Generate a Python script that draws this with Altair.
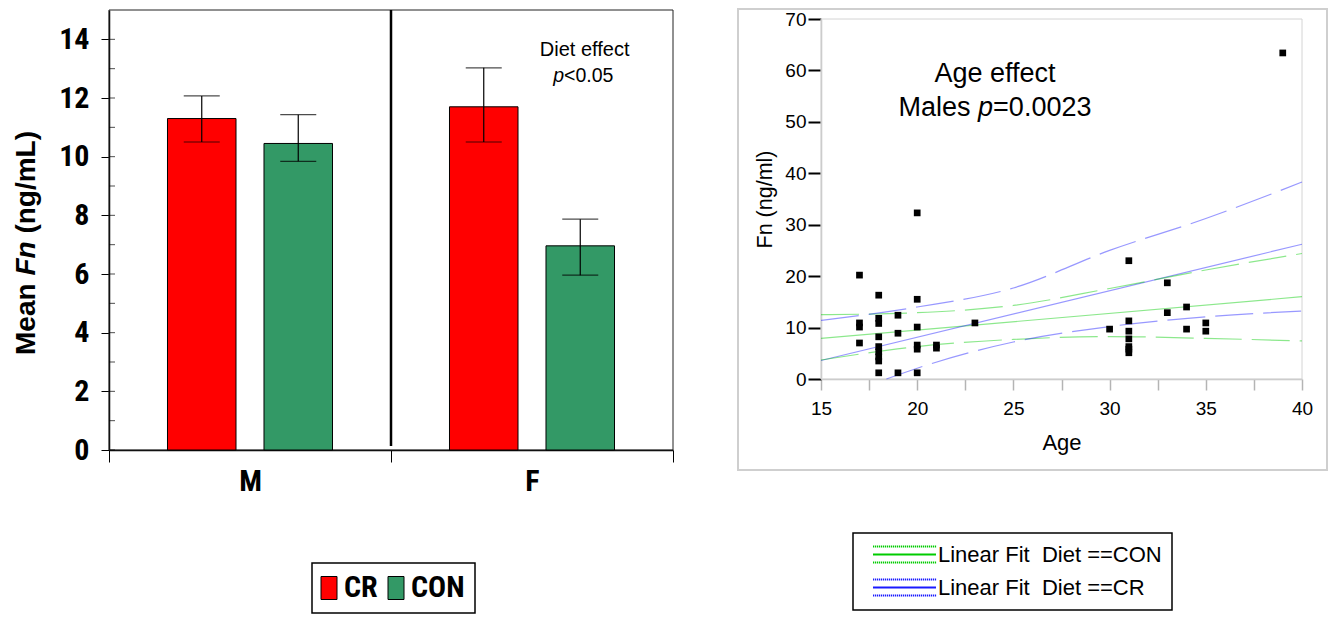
import altair as alt
import pandas as pd

NARROW = ("Liberation Sans Narrow, Arial Narrow, Roboto Condensed, Noto Sans Condensed, "
          "Open Sans Condensed, DejaVu Sans Condensed, Liberation Sans, sans-serif")
SANS = "Liberation Sans, Arial, Helvetica, sans-serif"

# ---------------- left panel data ----------------
sex = ["M", "M", "F", "F"]
diet = ["CR", "CON", "CR", "CON"]
mean_fn = [11.30, 10.45, 11.70, 6.96]
sem_low = [10.50, 9.84, 10.50, 5.96]
sem_high = [12.07, 11.43, 13.03, 7.87]
sex_order = ["M", "F"]
diet_order = ["CR", "CON"]
diet_colors = ["#ff0000", "#339966"]
left_ticks = [0, 2, 4, 6, 8, 10, 12, 14]
left_inner_ticks = list(range(0, 15))

# ---------------- right panel data ----------------
ages = [17, 17, 17, 17,
        18, 18, 18, 18, 18, 18, 18, 18, 18,
        19, 19, 19,
        20, 20, 20, 20, 20, 20,
        21, 21, 23, 30,
        31, 31, 31, 31, 31, 31, 31,
        33, 33, 34, 34, 35, 35, 39]
fn_values = [20.2, 10.9, 10.1, 7.0,
             16.3, 11.8, 10.8, 8.2, 6.3, 5.3, 4.3, 3.5, 1.2,
             12.4, 8.9, 1.2,
             32.3, 15.5, 10.1, 6.6, 5.8, 1.2,
             6.6, 6.0, 10.9, 9.7,
             23.0, 11.3, 9.3, 7.8, 6.3, 5.8, 5.1,
             18.7, 12.9, 14.0, 9.7, 10.9, 9.3, 63.4]
fit_names = ["Linear Fit\u00a0 Diet ==CON", "Linear Fit\u00a0 Diet ==CR"]
fit_colors = ["#00cc00", "#1a1aff"]
fit_ages = [15, 40]
con_fit = [7.9, 16.0]
cr_fit = [3.6, 26.2]
band_ages = [15, 20, 25, 30, 35, 40]
con_upper = [12.5, 12.9, 14.3, 17.6, 21.2, 24.4]
con_lower = [3.7, 6.3, 7.7, 8.25, 7.9, 7.4]
cr_upper = [11.4, 14.0, 17.7, 25.0, 31.2, 38.3]
cr_lower_ages = [18.4, 20, 25, 30, 35, 40]
cr_lower = [0.0, 2.1, 7.2, 10.2, 12.1, 13.2]
right_y_ticks = [0, 10, 20, 30, 40, 50, 60, 70]
right_x_ticks = [15, 17.5, 20, 22.5, 25, 27.5, 30, 32.5, 35, 37.5, 40]

# ---------------- layout (pixels, relative to the view origin) ----------------
W, H = 1193, 440
L_W = 564
R_X0, R_X1, R_Y0, R_Y1 = 712, 1193, 9, 369

dummy = pd.DataFrame({"k": [0]})


def txt(text, x, y, size, font=SANS, weight="normal", style="normal",
        align="left", baseline="alphabetic", angle=0):
    return alt.Chart(dummy).mark_text(
        text=text, font=font, fontSize=size, fontWeight=weight, fontStyle=style,
        align=align, baseline=baseline, angle=angle, color="black"
    ).encode(x=alt.value(x), y=alt.value(y))


def frame(x0, x1, y0, y1, color, width):
    return alt.Chart(dummy).mark_rect(
        fillOpacity=0, stroke=color, strokeWidth=width
    ).encode(x=alt.value(x0), x2=alt.value(x1), y=alt.value(y0), y2=alt.value(y1))


# ---------------- left panel ----------------
left_df = pd.DataFrame({"sex": sex, "diet": diet, "mean": mean_fn,
                        "low": sem_low, "high": sem_high})
x_scale_l = alt.Scale(domain=sex_order, range=[0, L_W], paddingInner=0, paddingOuter=0)
x_axis_l = alt.Axis(orient="bottom", title=None, tickBand="extent", tickSize=12,
                    tickColor="black", tickWidth=1, domainColor="black", domainWidth=1.5,
                    labelFont=NARROW, labelFontSize=30, labelFontWeight="bold",
                    labelColor="black", labelPadding=4, labelAngle=0, grid=False)
y_scale_l = alt.Scale(domain=[0, 15], range=[H, 0], nice=False, zero=True)
y_axis_l = alt.Axis(orient="left", title=None, values=left_ticks, tickSize=8,
                    tickColor="black", domainColor="black", domainWidth=1.5,
                    labelFont=NARROW, labelFontSize=30, labelFontWeight="bold",
                    labelColor="black", labelPadding=12, grid=False)
x_off = alt.XOffset("diet:N", scale=alt.Scale(domain=diet_order, paddingInner=0.29,
                                              paddingOuter=0.606))


def lx():
    return alt.X("sex:N", scale=x_scale_l, axis=x_axis_l)


def ly(field):
    return alt.Y(f"{field}:Q", scale=y_scale_l, axis=y_axis_l)


BAR_SYMBOL = "M-0.64,-0.92H0.64V0.92H-0.64Z"

bar_legend_opts = dict(title=None, orient="none", legendX=203, legendY=553,
                       direction="horizontal", columns=2,
                       symbolType=BAR_SYMBOL, symbolSize=625,
                       symbolStrokeColor="black", symbolStrokeWidth=1,
                       symbolOpacity=1, labelFont=NARROW, labelFontSize=30,
                       labelFontWeight="bold", labelColor="black",
                       labelOffset=0, columnPadding=8, padding=10,
                       strokeColor="black", fillColor="white")
try:
    bar_legend = alt.Legend(symbolOffset=-8, **bar_legend_opts)
except Exception:
    bar_legend_opts["padding"] = 8
    bar_legend = alt.Legend(symbolOffset=0, **bar_legend_opts)

bars = alt.Chart(left_df).mark_bar(stroke="black", strokeWidth=1).encode(
    x=lx(), xOffset=x_off, y=ly("mean"),
    fill=alt.Fill("diet:N", scale=alt.Scale(domain=diet_order, range=diet_colors),
                  legend=bar_legend)
)
err = alt.Chart(left_df).mark_rule(color="black", strokeWidth=1.2).encode(
    x=lx(), xOffset=x_off, y=ly("low"), y2="high:Q")
cap_hi = alt.Chart(left_df).mark_tick(color="black", thickness=1.2, size=36,
                                      orient="horizontal").encode(
    x=lx(), xOffset=x_off, y=ly("high"))
cap_lo = alt.Chart(left_df).mark_tick(color="black", thickness=1.2, size=36,
                                      orient="horizontal").encode(
    x=lx(), xOffset=x_off, y=ly("low"))
divider = alt.Chart(pd.DataFrame({"sex": ["F"]})).mark_rule(
    color="black", strokeWidth=2.5).encode(
    x=alt.X("sex:N", bandPosition=0, scale=x_scale_l, axis=x_axis_l),
    y=alt.value(0), y2=alt.value(436))
inner_ticks = alt.Chart(pd.DataFrame({"t": left_inner_ticks})).mark_tick(
    orient="horizontal", color="black", thickness=1, size=6).encode(
    y=ly("t"), x=alt.value(3))

left_layer = alt.layer(bars, err, cap_hi, cap_lo, divider, inner_ticks)

# ---------------- right panel ----------------
pts_df = pd.DataFrame({"age": ages, "fn": fn_values})
fit_df = pd.DataFrame({
    "fit": [fit_names[0]] * 2 + [fit_names[1]] * 2,
    "age": fit_ages + fit_ages,
    "fn": con_fit + cr_fit,
})
band_df = pd.DataFrame({
    "band": ["con_up"] * 6 + ["con_lo"] * 6 + ["cr_up"] * 6 + ["cr_lo"] * 6,
    "fit": [fit_names[0]] * 12 + [fit_names[1]] * 12,
    "age": band_ages + band_ages + band_ages + cr_lower_ages,
    "fn": con_upper + con_lower + cr_upper + cr_lower,
})

x_scale_r = alt.Scale(domain=[15, 40], range=[R_X0, R_X1], nice=False, zero=False)
x_axis_r = alt.Axis(orient="bottom", offset=-(H - R_Y1), values=right_x_ticks,
                    labelExpr="datum.value % 5 == 0 ? datum.label : ''",
                    tickSize=11, tickColor="#b4b4b4", tickWidth=1.5,
                    domainColor="#c4c4c4", domainWidth=1.5, labelFont=SANS,
                    labelFontSize=19, labelColor="black", labelPadding=9,
                    labelOverlap=False, labelFlush=False,
                    title="Age", titleFont=SANS, titleFontSize=22,
                    titleFontWeight="normal", titleColor="black", titlePadding=14,
                    grid=False)
y_scale_r = alt.Scale(domain=[0, 70], range=[R_Y1, R_Y0], nice=False, zero=True)
y_axis_r = alt.Axis(orient="left", offset=-R_X0, values=right_y_ticks, tickSize=13,
                    tickWidth=2, tickColor="black", domainColor="#c4c4c4",
                    domainWidth=1.5, labelFont=SANS, labelFontSize=19,
                    labelColor="black", labelPadding=2, title="Fn (ng/ml)",
                    titleFont=SANS, titleFontSize=21.5, titleFontWeight="normal",
                    titleColor="black", titlePadding=8, grid=False)


def rx():
    return alt.X("age:Q", scale=x_scale_r, axis=x_axis_r)


def ry():
    return alt.Y("fn:Q", scale=y_scale_r, axis=y_axis_r)


def dotted(yv):
    segs = []
    xv = -3.0
    while xv < 2.95:
        segs.append(f"M{xv:.2f},{yv}h0.12")
        xv += 0.19
    return "".join(segs)


LINE_SYMBOL = "M-3,0H3" + dotted(-0.76) + dotted(0.76)

stroke_enc = alt.Stroke(
    "fit:N", scale=alt.Scale(domain=fit_names, range=fit_colors),
    legend=alt.Legend(title=None, orient="none", legendX=744, legendY=523,
                      direction="vertical", symbolType=LINE_SYMBOL, symbolSize=441,
                      symbolStrokeWidth=2, symbolOpacity=1, symbolOffset=30,
                      labelFont=SANS, labelFontSize=22, labelColor="black",
                      labelOffset=22, labelLimit=400, rowPadding=8, padding=10,
                      strokeColor="black", fillColor="white"))

fits = alt.Chart(fit_df).mark_line(strokeWidth=1.2).encode(
    x=rx(), y=ry(), stroke=stroke_enc, strokeOpacity=alt.value(0.45))
bands = alt.Chart(band_df).mark_line(strokeWidth=1.2, strokeDash=[38, 10],
                                     interpolate="monotone").encode(
    x=rx(), y=ry(), stroke=stroke_enc, detail="band:N",
    strokeOpacity=alt.value(0.45))
points = alt.Chart(pts_df).mark_square(size=45, color="black", opacity=1).encode(
    x=rx(), y=ry())

right_layer = alt.layer(fits, bands, points)

# ---------------- decorations & annotations ----------------
left_frame = frame(0, L_W, 0, H, "#222222", 1)
right_outer = frame(629, 1218, -1, 460, "#cfcfcf", 2)
right_plot_frame = frame(R_X0, R_X1, R_Y0, R_Y1, "#d4d4d4", 1)

texts = [
    txt("Mean", -74, 345, 28, weight="bold", angle=270),
    txt("Fn", -74, 265.6, 28, weight="bold", style="italic", angle=270),
    txt("(ng/mL)", -74, 223.6, 28, weight="bold", angle=270),
    txt("Diet effect", 475.7, 46, 20, align="center"),
    txt("p", 444.3, 71.7, 19.5, style="italic"),
    txt("<0.05", 455.1, 71.7, 19.5),
    txt("Age effect", 886, 71.7, 27, align="center"),
    txt("Males", 789.6, 106, 27),
    txt("p", 869.1, 106, 27, style="italic"),
    txt("=0.0023", 884.1, 106, 27),
]

chart = alt.layer(
    right_outer, left_frame, right_plot_frame, left_layer, right_layer, *texts
).resolve_scale(
    x="independent", y="independent"
).properties(
    width=W, height=H,
    autosize=alt.AutoSizeParams(type="none"),
    padding={"left": 101, "top": 2, "right": 26, "bottom": 164},
    background="white",
).configure(
    font=SANS
).configure_view(
    stroke=None
).configure_legend(
    strokeWidth=1.5
)

chart.save("out.html", embed_options={"renderer": "svg", "actions": False})
